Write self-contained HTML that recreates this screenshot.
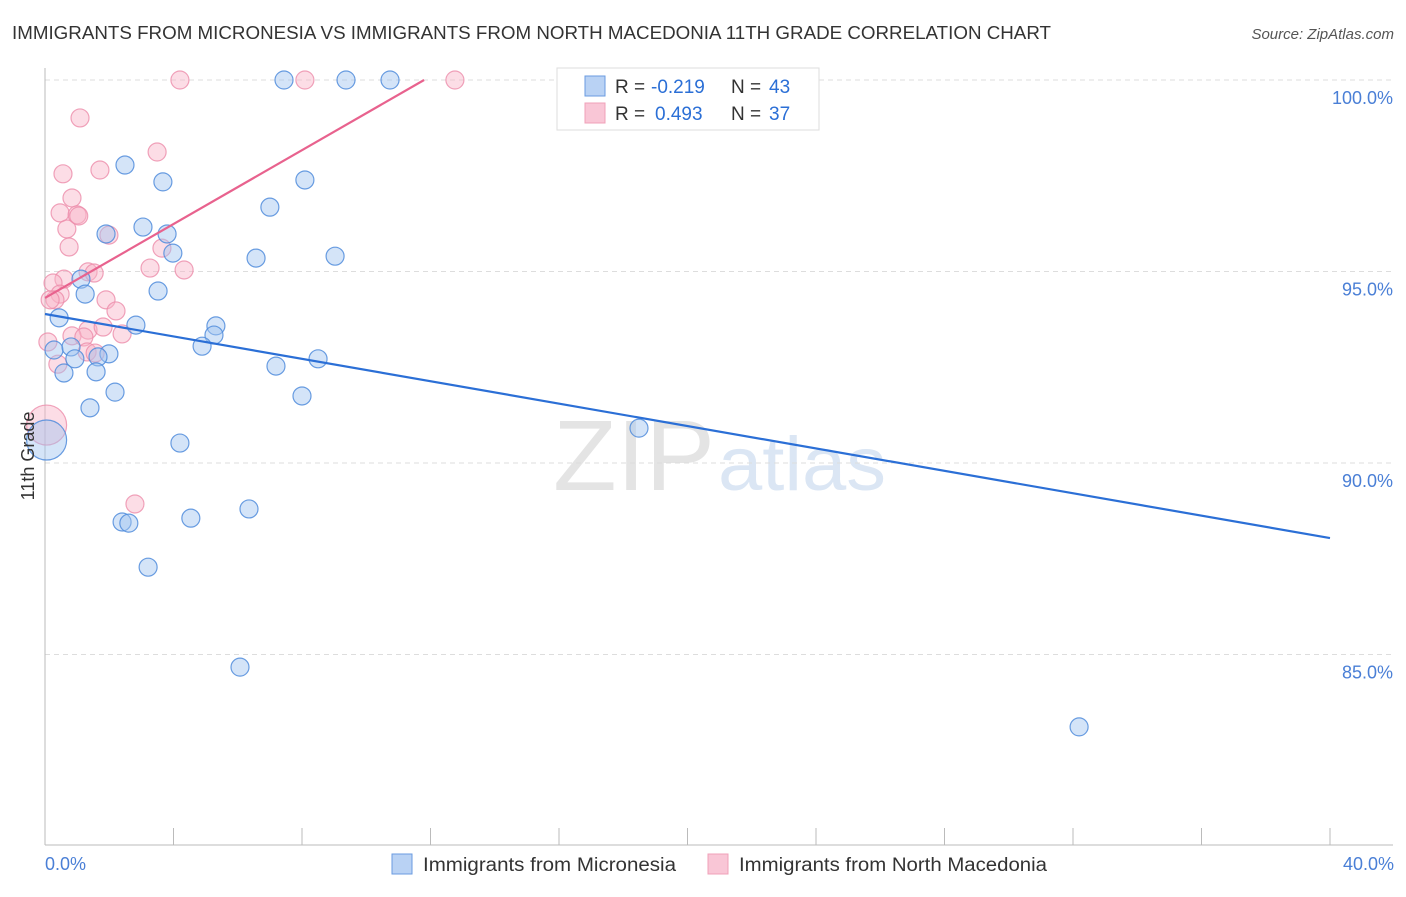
<!DOCTYPE html>
<html><head><meta charset="utf-8"><style>
body{margin:0;background:#fff;font-family:"Liberation Sans",sans-serif;}
svg text{font-family:"Liberation Sans",sans-serif;}
</style></head><body>
<svg id="chart" width="1406" height="892" viewBox="0 0 1406 892">
<text x="12" y="39" font-size="18.5" fill="#333" textLength="1039" lengthAdjust="spacingAndGlyphs">IMMIGRANTS FROM MICRONESIA VS IMMIGRANTS FROM NORTH MACEDONIA 11TH GRADE CORRELATION CHART</text>
<text x="1394" y="39" font-size="15" fill="#555" text-anchor="end" font-style="italic">Source: ZipAtlas.com</text>
<text x="553" y="490" font-size="100" fill="#e4e4e4" textLength="162" lengthAdjust="spacingAndGlyphs" font-family="Liberation Serif">ZIP</text>
<text x="718" y="490" font-size="76" fill="#dbe6f4" textLength="168" lengthAdjust="spacingAndGlyphs">atlas</text>
<g id="grid"></g>
<g id="axes"></g>
<g id="pts"></g>
<g id="lines"></g>
<text transform="translate(34,456) rotate(-90)" font-size="18" fill="#333" text-anchor="middle">11th Grade</text>
<text x="45" y="870" font-size="18" fill="#4a7fd6">0.0%</text>
<text x="1394" y="870" font-size="18" fill="#4a7fd6" text-anchor="end">40.0%</text>
<g>
<rect x="557" y="68" width="262" height="62" fill="#fff" stroke="#ddd"/>
<rect x="585" y="76" width="20" height="20" fill="#b9d2f4" stroke="#6a9be0"/>
<rect x="585" y="103" width="20" height="20" fill="#f9c6d6" stroke="#f0a0b8"/>
<text x="615" y="93" font-size="19" fill="#333">R =</text>
<text x="651" y="93" font-size="19" fill="#2b6fd6">-0.219</text>
<text x="731" y="93" font-size="19" fill="#333">N =</text>
<text x="769" y="93" font-size="19" fill="#2b6fd6">43</text>
<text x="615" y="120" font-size="19" fill="#333">R =</text>
<text x="655" y="120" font-size="19" fill="#2b6fd6">0.493</text>
<text x="731" y="120" font-size="19" fill="#333">N =</text>
<text x="769" y="120" font-size="19" fill="#2b6fd6">37</text>
</g>
<g>
<rect x="392" y="854" width="20" height="20" fill="#b9d2f4" stroke="#6a9be0"/>
<text x="423" y="871" font-size="19" fill="#333" textLength="253" lengthAdjust="spacingAndGlyphs">Immigrants from Micronesia</text>
<rect x="708" y="854" width="20" height="20" fill="#f9c6d6" stroke="#f0a0b8"/>
<text x="739" y="871" font-size="19" fill="#333" textLength="308" lengthAdjust="spacingAndGlyphs">Immigrants from North Macedonia</text>
</g>
</svg>
<script>
const yTicks=[100,95,90,85];
const yTickLabels=["100.0%","95.0%","90.0%","85.0%"];
const xTicks=[0,4,8,12,16,20,24,28,32,36,40];
const blueX=[7.44,9.37,10.74,2.49,3.67,8.09,7.00,3.05,1.90,3.80,3.98,6.57,9.03,1.12,3.52,1.25,0.44,2.83,5.32,5.26,4.89,0.28,0.81,1.99,0.93,1.65,8.50,7.19,0.59,1.59,2.18,8.00,1.40,0.05,4.20,18.49,6.35,4.54,2.40,2.61,3.21,6.07,32.19];
const blueY=[100,100,100,97.78,97.34,97.39,96.68,96.16,95.98,95.98,95.48,95.35,95.40,94.80,94.49,94.41,93.79,93.60,93.58,93.34,93.05,92.95,93.03,92.85,92.72,92.77,92.72,92.53,92.35,92.38,91.85,91.75,91.44,90.60,90.52,90.91,88.80,88.56,88.46,88.43,87.28,84.67,83.11];
const pinkX=[4.20,8.09,12.76,1.09,3.49,0.56,1.71,0.84,0.47,1.00,1.99,0.68,0.75,3.64,3.27,4.33,1.34,1.53,0.59,0.25,0.47,0.31,1.90,2.21,1.34,1.81,0.84,1.21,2.40,0.09,1.31,0.40,0.05,2.80,0.16,1.56,1.05];
const pinkY=[100,100,100,99.01,98.12,97.55,97.65,96.92,96.53,96.48,95.95,96.11,95.64,95.61,95.09,95.04,94.99,94.96,94.80,94.70,94.41,94.26,94.26,93.97,93.47,93.55,93.32,93.29,93.37,93.16,92.90,92.58,90.99,88.93,94.26,92.87,96.45];
const blueBig=[33];const pinkBig=[32];
const blueTrend=[[0,93.89],[40,88.04]];
const pinkTrend=[[0,94.31],[11.8,100]];
const NS="http://www.w3.org/2000/svg";
const X=v=>45+v/40*1285;
const Y=v=>80+(100-v)*38.3;
function mk(tag,attrs,parent){const e=document.createElementNS(NS,tag);for(const k in attrs)e.setAttribute(k,attrs[k]);parent.appendChild(e);return e;}
const grid=document.getElementById('grid'),axes=document.getElementById('axes'),pts=document.getElementById('pts'),lines=document.getElementById('lines');
yTicks.forEach((t,i)=>{
 const l=mk('line',{x1:45,x2:1393,y1:Y(t),y2:Y(t),stroke:'#ddd','stroke-dasharray':'5,4'},grid);
 
 
 const tx=mk('text',{x:1393,y:Y(t)+24,'font-size':18,fill:'#4a7fd6','text-anchor':'end'},grid);
 tx.textContent=yTickLabels[i];
 
 
});
const ax=mk('line',{x1:45,x2:45,y1:68,y2:845,stroke:'#bbb'},axes);


const bx=mk('line',{x1:45,x2:1393,y1:845,y2:845,stroke:'#bbb'},axes);


xTicks.forEach(t=>{
 const l=mk('line',{x1:X(t),x2:X(t),y1:828,y2:845,stroke:'#bbb'},axes);
 
 
});
function dots(xs,ys,big,fill,stroke,name){
 xs.forEach((x,i)=>{
  const c=mk('circle',{cx:X(x),cy:Y(ys[i]),r:big.includes(i)?20:9,fill:fill,stroke:stroke,'stroke-width':1.2},pts);
  
  
 });
}
dots(pinkX,pinkY,pinkBig,'rgba(248,180,200,0.45)','rgba(236,140,170,0.8)','point-north-macedonia');
dots(blueX,blueY,blueBig,'rgba(160,196,240,0.45)','rgba(80,140,220,0.85)','point-micronesia');
const bl=mk('line',{x1:X(blueTrend[0][0]),y1:Y(blueTrend[0][1]),x2:X(blueTrend[1][0]),y2:Y(blueTrend[1][1]),stroke:'#2b6fd6','stroke-width':2.2},lines);


const pl=mk('line',{x1:X(pinkTrend[0][0]),y1:Y(pinkTrend[0][1]),x2:X(pinkTrend[1][0]),y2:Y(pinkTrend[1][1]),stroke:'#e8628e','stroke-width':2.2},lines);


</script>
</body></html>
